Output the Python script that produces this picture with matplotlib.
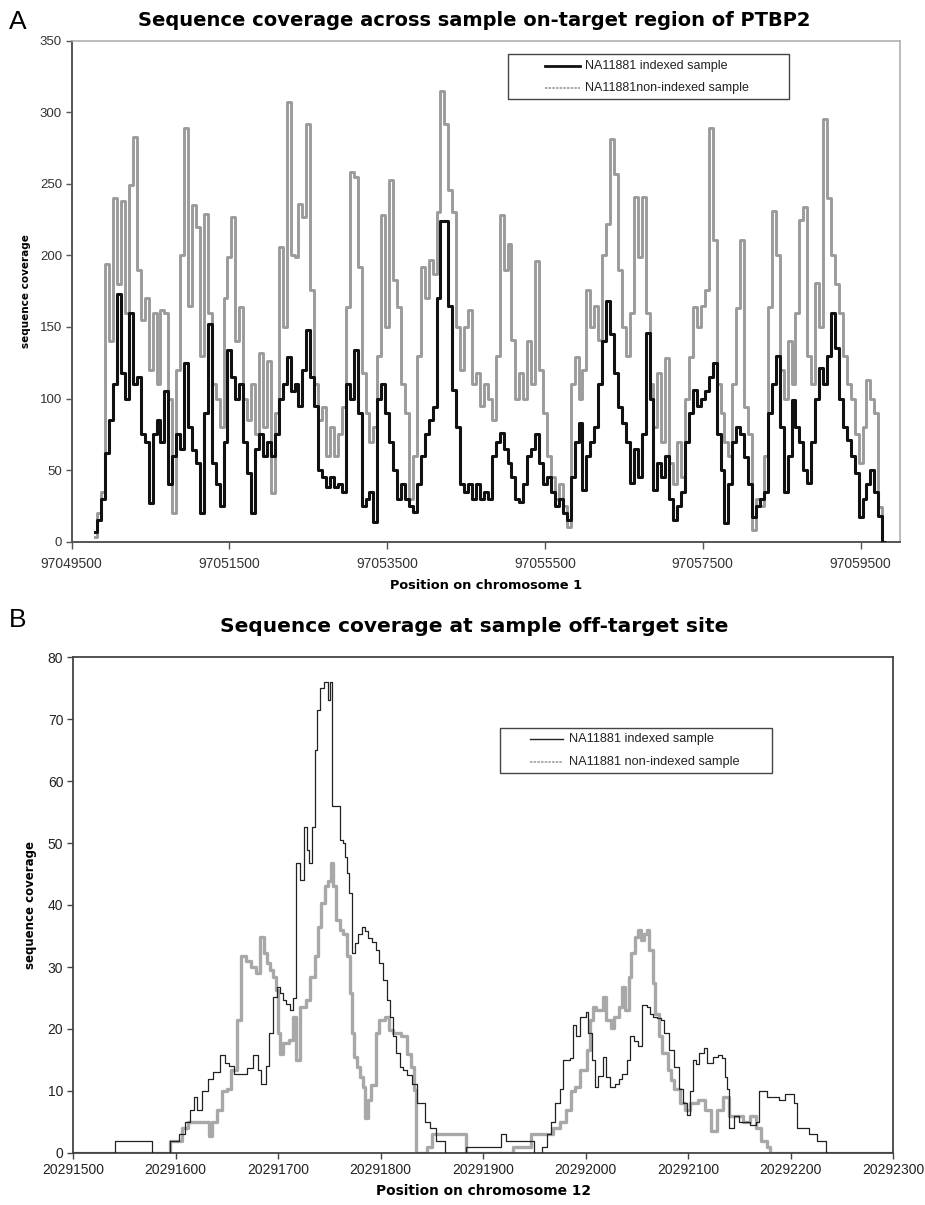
import numpy as np
import matplotlib
matplotlib.use("Agg")
import matplotlib.pyplot as plt
from matplotlib.patches import Rectangle
from matplotlib.lines import Line2D

# ---------------- Panel A data (50 bp grid) ----------------
a_start, a_step = 97049800, 50
a_gray = [3, 20, 35, 194, 140, 240, 180, 238, 160, 249,
          283, 190, 155, 170, 120, 160, 110, 162, 160, 100,
          20, 120, 200, 289, 165, 235, 220, 130, 229, 160,
          110, 100, 80, 170, 199, 227, 140, 164, 100, 85,
          110, 75, 132, 80, 126, 34, 90, 206, 150, 307,
          200, 199, 236, 227, 292, 176, 110, 85, 94, 60,
          80, 60, 75, 94, 164, 258, 255, 192, 118, 90,
          70, 80, 130, 228, 150, 253, 183, 164, 110, 90,
          30, 60, 130, 192, 170, 197, 187, 230, 315, 292,
          246, 230, 150, 120, 150, 162, 110, 118, 95, 110,
          100, 85, 130, 228, 190, 208, 141, 100, 118, 100,
          140, 110, 196, 120, 90, 60, 45, 30, 40, 25,
          10, 110, 129, 100, 120, 176, 150, 165, 141, 200,
          222, 281, 257, 190, 150, 130, 160, 241, 199, 241,
          160, 110, 80, 118, 70, 128, 55, 40, 70, 45,
          100, 129, 164, 150, 165, 176, 289, 211, 110, 90,
          70, 60, 110, 163, 211, 94, 75, 8, 30, 25,
          60, 164, 231, 200, 120, 100, 140, 110, 160, 225,
          234, 130, 110, 181, 150, 295, 240, 200, 180, 160,
          130, 110, 100, 75, 55, 80, 113, 100, 90, 24,
          0]
a_black = [7, 15, 30, 62, 85, 110, 173, 118, 100, 160,
           110, 115, 75, 70, 27, 75, 85, 70, 105, 40,
           60, 75, 65, 125, 80, 64, 55, 20, 90, 152,
           55, 40, 25, 70, 134, 115, 100, 110, 70, 48,
           20, 65, 75, 60, 70, 60, 75, 100, 110, 129,
           105, 110, 95, 120, 148, 115, 95, 50, 45, 38,
           45, 38, 40, 35, 110, 100, 134, 90, 25, 30,
           35, 14, 100, 110, 90, 70, 50, 30, 40, 30,
           25, 21, 40, 60, 75, 85, 94, 170, 224, 224,
           165, 106, 80, 40, 35, 40, 30, 40, 30, 35,
           30, 60, 70, 76, 65, 55, 45, 30, 28, 40,
           60, 65, 75, 55, 40, 45, 35, 25, 30, 20,
           15, 45, 70, 83, 36, 60, 70, 80, 110, 140,
           168, 145, 118, 94, 83, 70, 41, 65, 45, 75,
           146, 100, 36, 55, 45, 60, 30, 15, 25, 35,
           70, 90, 106, 95, 100, 105, 115, 125, 75, 50,
           13, 40, 70, 80, 75, 59, 40, 17, 25, 30,
           35, 90, 110, 130, 80, 35, 60, 99, 80, 70,
           50, 41, 70, 100, 121, 110, 130, 160, 135, 100,
           80, 71, 60, 48, 17, 30, 40, 50, 35, 18,
           0]
a_xticks = [97049500, 97051500, 97053500, 97055500, 97057500, 97059500]
a_yticks = [0, 50, 100, 150, 200, 250, 300, 350]

# ---------------- Panel B data (breakpoints) ----------------
b_black_pos = [20291500, 20291541, 20291577, 20291595, 20291603, 20291609, 20291614, 20291618, 20291621,
               20291626, 20291632, 20291637, 20291643, 20291648, 20291652, 20291657, 20291670, 20291676,
               20291680, 20291683, 20291688, 20291691, 20291695, 20291699, 20291702, 20291705, 20291708,
               20291712, 20291715, 20291718, 20291721, 20291725, 20291728, 20291730, 20291733, 20291736,
               20291738, 20291741, 20291745, 20291749, 20291751, 20291753, 20291757, 20291760, 20291763,
               20291765, 20291767, 20291769, 20291772, 20291775, 20291778, 20291782, 20291785, 20291788,
               20291792, 20291796, 20291799, 20291802, 20291806, 20291809, 20291812, 20291815, 20291819,
               20291822, 20291826, 20291831, 20291836, 20291843, 20291848, 20291854, 20291863, 20291883,
               20291918, 20291922, 20291950, 20291958, 20291962, 20291966, 20291970, 20291975, 20291978,
               20291985, 20291988, 20291991, 20291995, 20292000, 20292002, 20292006, 20292009, 20292012,
               20292017, 20292020, 20292024, 20292029, 20292033, 20292036, 20292040, 20292043, 20292047,
               20292051, 20292055, 20292060, 20292063, 20292066, 20292070, 20292074, 20292077, 20292081,
               20292086, 20292091, 20292095, 20292099, 20292102, 20292105, 20292108, 20292111, 20292116,
               20292119, 20292124, 20292129, 20292133, 20292136, 20292138, 20292140, 20292145, 20292150,
               20292160, 20292166, 20292169, 20292177, 20292189, 20292195, 20292203, 20292206, 20292212,
               20292218, 20292226, 20292235, 20292300]
b_black_val = [0, 2, 0, 2, 3, 5, 7, 9, 7,
               10, 12, 13, 15.8, 14.5, 14, 12.8, 13.7, 15.8,
               13.4, 11.2, 14, 19.3, 25.2, 26.8, 25.8, 24.7, 24.1,
               23, 25, 46.7, 44, 52.6, 48.9, 46.7, 52.6, 65,
               71.5, 75, 76, 73, 76, 55.9, 55.9, 50.5, 50,
               47.8, 45.1, 41.9, 32.2, 33.8, 35.4, 36.5, 35.8, 34.6,
               34, 32.7, 30.6, 27.9, 24.7, 22, 18.8, 16.1, 13.9,
               13.4, 12.6, 11.2, 8, 5, 4, 2, 0, 1,
               3, 2, 0, 1, 3, 5, 8, 10.4, 15,
               15.3, 20.6, 18.8, 22, 22.8, 19.3, 15, 10.7, 12.5,
               15.5, 12.3, 10.7, 11.2, 12, 12.8, 15, 18.8, 18,
               17.2, 23.9, 23.6, 22.5, 22, 21.8, 21.5, 19.3, 16.6,
               13.9, 10.4, 8, 6.2, 10, 15, 14.3, 16.1, 16.9,
               14.5, 15.5, 15.8, 15.3, 12.3, 10.4, 4, 6, 5,
               4.5, 5, 10, 9, 8.5, 9.5, 8, 4, 4,
               3, 2, 0, 0]
b_gray_pos = [20291500, 20291595, 20291606, 20291612, 20291633, 20291636, 20291640, 20291645, 20291650,
              20291654, 20291660, 20291664, 20291669, 20291674, 20291679, 20291682, 20291686, 20291689,
              20291692, 20291695, 20291698, 20291700, 20291702, 20291705, 20291711, 20291715, 20291718,
              20291721, 20291727, 20291731, 20291736, 20291739, 20291742, 20291746, 20291749, 20291752,
              20291754, 20291757, 20291760, 20291763, 20291767, 20291770, 20291772, 20291774, 20291777,
              20291780, 20291783, 20291785, 20291788, 20291791, 20291796, 20291799, 20291804, 20291808,
              20291812, 20291820, 20291826, 20291830, 20291833, 20291835, 20291845, 20291850, 20291883,
              20291929, 20291947, 20291968, 20291975, 20291981, 20291986, 20291990, 20291995, 20292001,
              20292004, 20292007, 20292010, 20292017, 20292020, 20292025, 20292028, 20292033, 20292036,
              20292039, 20292042, 20292044, 20292048, 20292051, 20292054, 20292057, 20292060, 20292062,
              20292066, 20292068, 20292072, 20292075, 20292080, 20292083, 20292086, 20292092, 20292097,
              20292102, 20292110, 20292117, 20292122, 20292128, 20292134, 20292140, 20292154, 20292160,
              20292166, 20292171, 20292177, 20292180, 20292300]
b_gray_val = [0, 2, 4, 5, 2.7, 5, 7, 10, 10.4,
              13.4, 21.5, 31.7, 31, 30, 29, 34.9, 32.2, 30.6,
              29.5, 28.4, 26.3, 19.3, 16, 17.7, 18.2, 22, 15,
              23.6, 24.7, 28.4, 31.7, 36.5, 40.3, 43, 43.8, 46.7,
              43, 37.6, 36, 35.4, 31.7, 25.8, 19.3, 15.5, 13.9,
              12.3, 10.7, 5.7, 8.6, 11, 19.3, 21.5, 22, 19.8,
              19.3, 18.8, 16, 13.9, 10.2, 0, 1, 3, 0,
              1, 3, 4, 5, 7, 10, 10.7, 13.4, 16.6,
              21.5, 23.6, 23, 25.2, 21.5, 20.1, 22, 23.6, 26.8,
              23.1, 28.4, 32.2, 34.9, 36, 34.4, 35.4, 36, 32.7,
              27.4, 22.5, 18.8, 16.1, 13.4, 11.8, 10.4, 8, 7,
              8, 8.6, 7, 3.5, 7, 9, 6, 5, 6,
              4, 2, 1, 0, 0]
b_xticks = [20291500, 20291600, 20291700, 20291800, 20291900, 20292000, 20292100, 20292200, 20292300]
b_yticks = [0, 10, 20, 30, 40, 50, 60, 70, 80]

labels_a = ["NA11881 indexed sample", "NA11881non-indexed sample"]
labels_b = ["NA11881 indexed sample", "NA11881 non-indexed sample"]

W, H = 925, 1205
fig = plt.figure(figsize=(W / 100, H / 100), dpi=100)


def ax_rect(l, r, t, b):
    return [l / W, 1 - b / H, (r - l) / W, (b - t) / H]


def fx(px):
    return px / W


def fy(py):
    return 1 - py / H


def manual_legend(box, rows, line_x, text_x, styles, labels, fsize):
    l, r, t, b = box
    fig.add_artist(Rectangle((fx(l), fy(b)), fx(r) - fx(l), fy(t) - fy(b), transform=fig.transFigure,
                             facecolor="white", edgecolor="#444444", lw=1.0, zorder=10))
    for y, st, lab in zip(rows, styles, labels):
        fig.add_artist(Line2D([fx(line_x[0]), fx(line_x[1])], [fy(y), fy(y)], transform=fig.transFigure,
                              zorder=11, **st))
        fig.text(fx(text_x), fy(y), lab, ha="left", va="center", fontsize=fsize,
                 family="Liberation Sans", color="#222222", zorder=12)


tick_font = dict(family="Liberation Sans")
bold_font = "DejaVu Sans"

# ---------------- Panel A ----------------
axA = fig.add_axes(ax_rect(71.7, 900, 40.7, 541.7))
xa = a_start + a_step * np.arange(len(a_gray))
axA.plot(xa, a_gray, drawstyle="steps-mid", color="#9b9b9b", lw=2.1, zorder=2)
axA.plot(xa, a_black, drawstyle="steps-mid", color="#111111", lw=2.2, zorder=3)
axA.set_xlim(97049500, 97060000)
axA.set_ylim(0, 350)
axA.set_xticks(a_xticks)
axA.set_xticklabels([str(v) for v in a_xticks], fontsize=10, color="#333333", **tick_font)
axA.set_yticks(a_yticks)
axA.set_yticklabels([str(v) for v in a_yticks], fontsize=9.5, color="#333333", **tick_font)
axA.tick_params(axis="x", direction="out", length=5, width=1, color="#555555", pad=6)
axA.tick_params(axis="y", direction="out", length=4, width=1, color="#555555", pad=3)
for s in ["top", "right"]:
    axA.spines[s].set_color("#b0b0b0")
    axA.spines[s].set_linewidth(1.2)
for s in ["left", "bottom"]:
    axA.spines[s].set_color("#555555")
    axA.spines[s].set_linewidth(1.4)
axA.set_xlabel("Position on chromosome 1", fontsize=9.3, fontweight="bold", family=bold_font, labelpad=6)
axA.set_ylabel("sequence coverage", fontsize=7.5, fontweight="bold", family=bold_font, labelpad=6)

manual_legend((508, 789, 54, 99), (66, 88), (545, 580), 585,
              [dict(color="#111111", lw=2.0),
               dict(color="#9b9b9b", lw=1.2, linestyle=(0, (1.5, 0.7)))],
              labels_a, 9)

fig.text(474 / W, 1 - 21 / H, "Sequence coverage across sample on-target region of PTBP2",
         ha="center", va="center", fontsize=14, fontweight="bold", family=bold_font)
fig.text(9 / W, 1 - 22 / H, "A", ha="left", va="center", fontsize=19, family="Liberation Sans")

# ---------------- Panel B ----------------
axB = fig.add_axes(ax_rect(73, 893, 657, 1153))
axB.step(b_gray_pos, b_gray_val, where="post", color="#a8a8a8", lw=2.4, zorder=2)
axB.step(b_black_pos, b_black_val, where="post", color="#222222", lw=0.9, zorder=3)
axB.set_xlim(20291500, 20292300)
axB.set_ylim(0, 80)
axB.set_xticks(b_xticks)
axB.set_xticklabels([str(v) for v in b_xticks], fontsize=10, color="#222222", **tick_font)
axB.set_yticks(b_yticks)
axB.set_yticklabels([str(v) for v in b_yticks], fontsize=10, color="#222222", **tick_font)
axB.tick_params(axis="both", direction="out", length=4, width=1, color="#444444", pad=3)
for s in ["top", "right", "left", "bottom"]:
    axB.spines[s].set_color("#444444")
    axB.spines[s].set_linewidth(1.3)
axB.set_xlabel("Position on chromosome 12", fontsize=9.9, fontweight="bold", family=bold_font, labelpad=5)
axB.set_ylabel("sequence coverage", fontsize=8.5, fontweight="bold", family=bold_font, labelpad=8)

manual_legend((500, 772, 728, 773), (739, 762), (530, 563), 569,
              [dict(color="#222222", lw=1.0),
               dict(color="#a0a0a0", lw=1.2, linestyle=(0, (1.5, 0.7)))],
              labels_b, 9.2)

fig.text(474 / W, 1 - 627 / H, "Sequence coverage at sample off-target site",
         ha="center", va="center", fontsize=14.5, fontweight="bold", family=bold_font)
fig.text(9 / W, 1 - 620 / H, "B", ha="left", va="center", fontsize=19, family="Liberation Sans")

fig.savefig("out.png", dpi=100, facecolor="white")
